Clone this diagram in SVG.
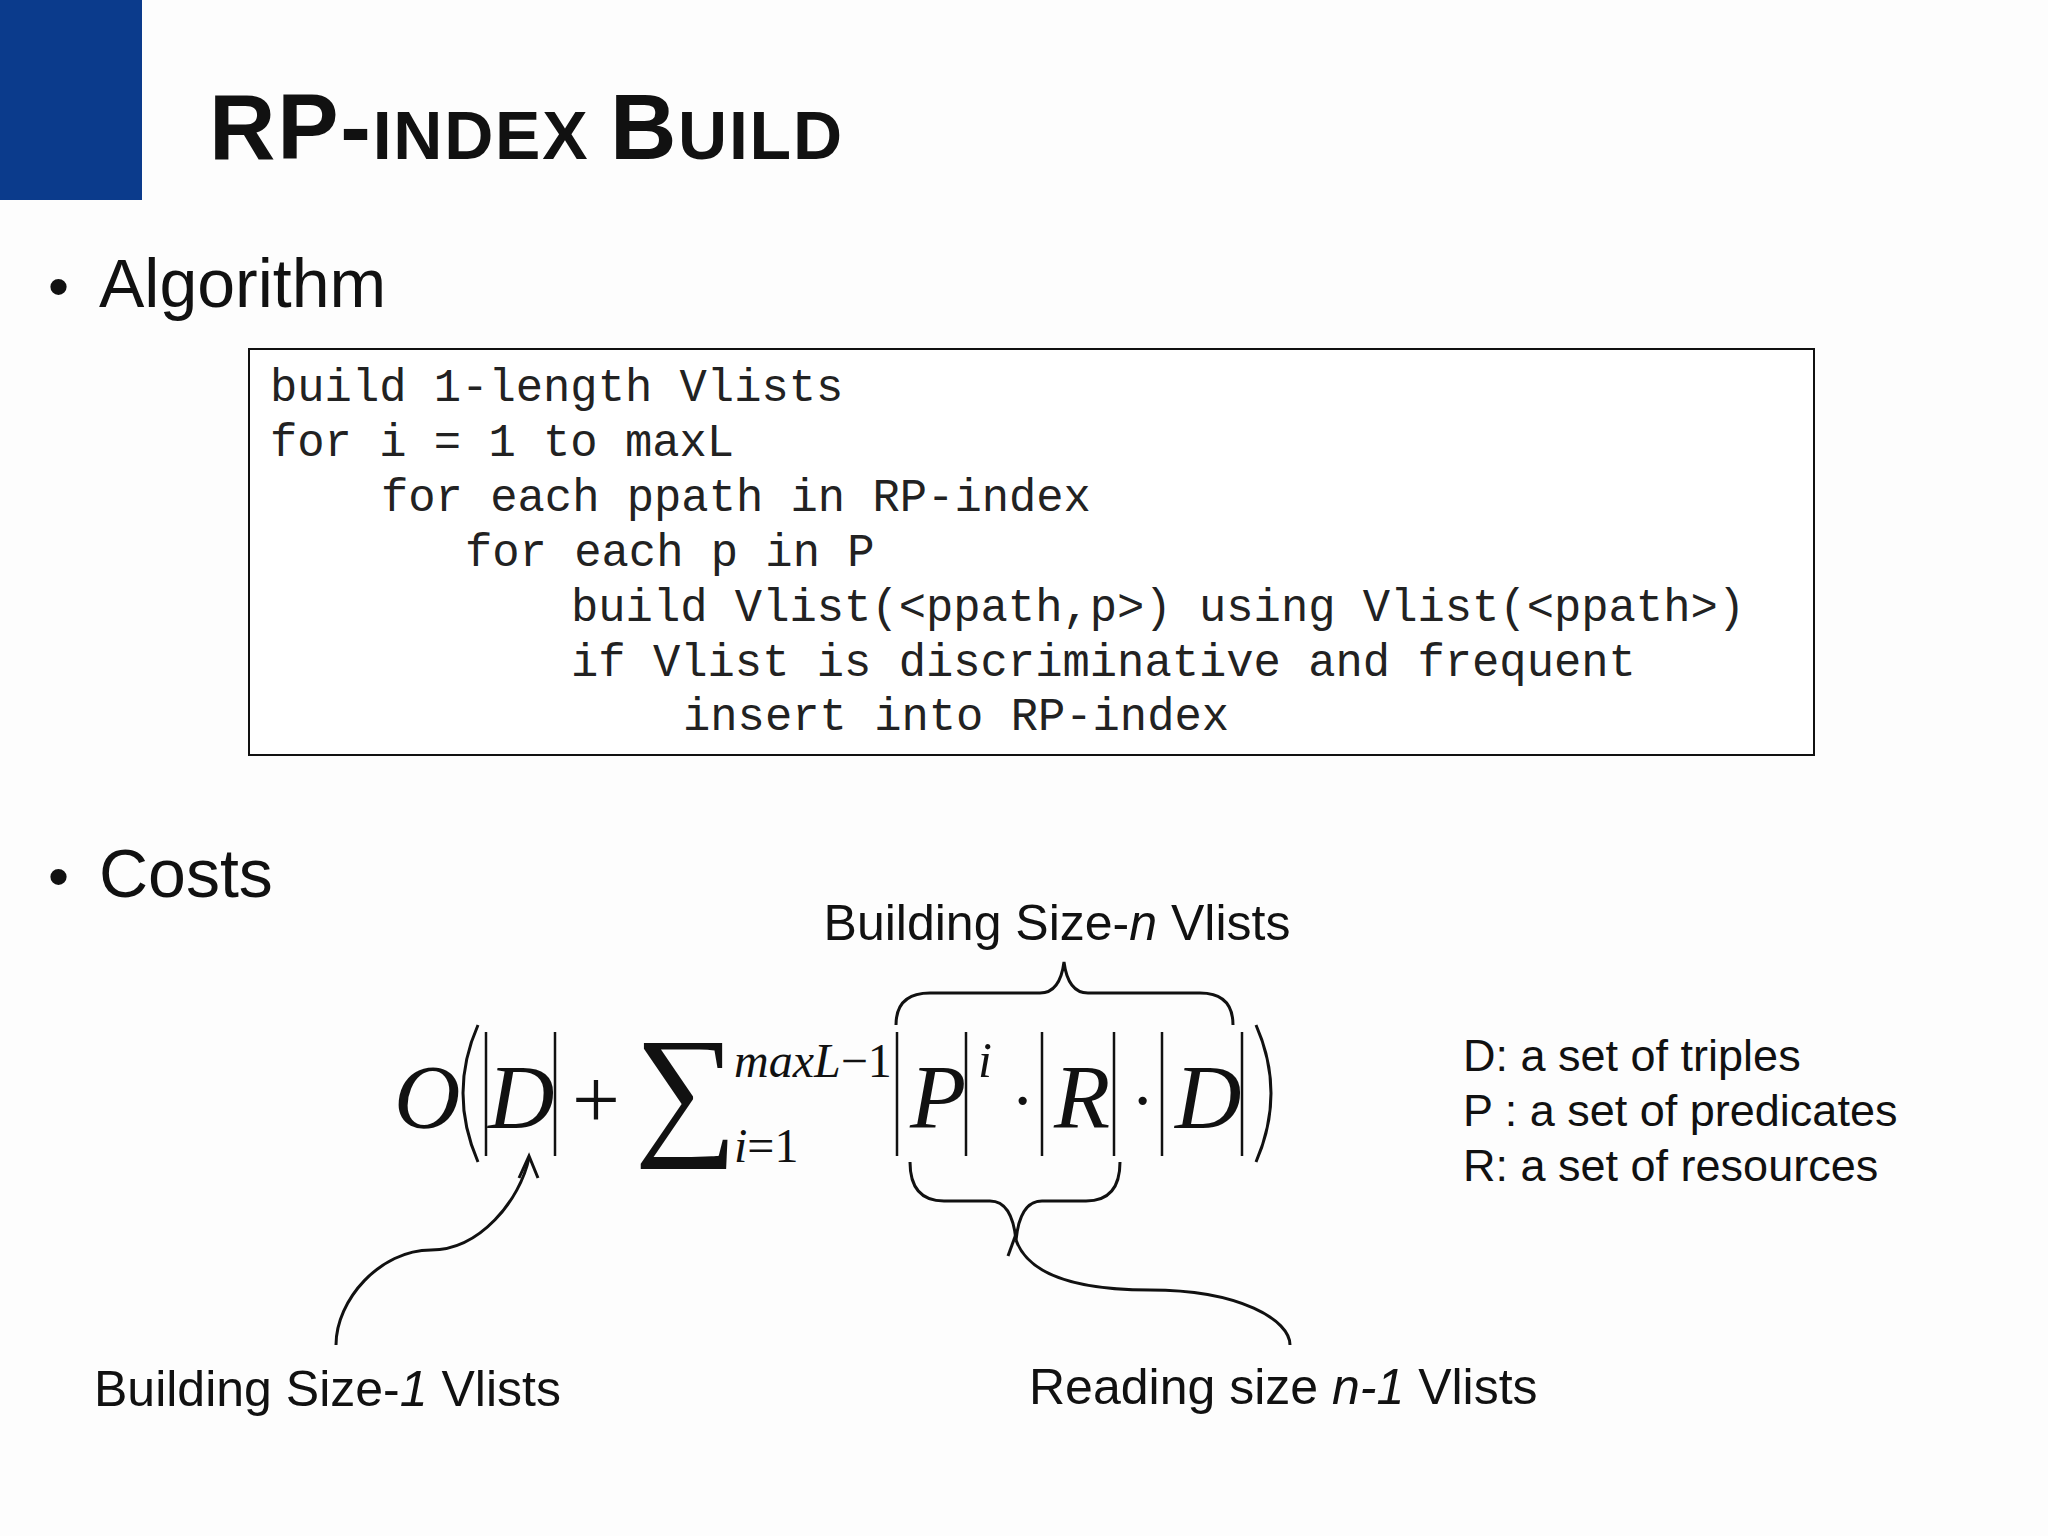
<svg xmlns="http://www.w3.org/2000/svg" width="2048" height="1536" viewBox="0 0 2048 1536">
<style>
.s{font-family:"Liberation Sans",Arial,sans-serif;fill:#111}
.c{font-family:"Liberation Mono","Courier New",monospace;font-size:45.5px;fill:#222}
.m{font-family:"Liberation Serif","Times New Roman",serif;font-style:italic;fill:#111}
.r{font-family:"Liberation Serif","Times New Roman",serif;fill:#111}
.ln{fill:none;stroke:#111;stroke-width:3}
.b{fill:none;stroke:#111;stroke-width:2.5}
</style>
<rect width="2048" height="1536" fill="#fdfdfd"/>
<rect x="0" y="0" width="142" height="200" fill="#0b3b8c"/>
<g id="title"><text class="s" x="209" y="159" font-weight="bold" textLength="633"><tspan font-size="92">RP-</tspan><tspan font-size="68">INDEX </tspan><tspan font-size="92">B</tspan><tspan font-size="68">UILD</tspan></text></g>
<g id="bullet-algorithm"><text class="s" x="48" y="307" font-size="60" fill="#0b3b8c">•</text><text class="s" x="99" y="307" font-size="68">Algorithm</text></g>
<g id="code">
<rect x="249" y="349" width="1565" height="406" fill="#fff" stroke="#111" stroke-width="2"/>
<text class="c" x="270" y="401">build 1-length Vlists</text>
<text class="c" x="270" y="456">for i = 1 to maxL</text>
<text class="c" x="381" y="511">for each ppath in RP-index</text>
<text class="c" x="465" y="566">for each p in P</text>
<text class="c" x="571" y="621">build Vlist(&lt;ppath,p&gt;) using Vlist(&lt;ppath&gt;)</text>
<text class="c" x="571" y="676">if Vlist is discriminative and frequent</text>
<text class="c" x="683" y="730">insert into RP-index</text>
</g>
<g id="bullet-costs"><text class="s" x="48" y="897" font-size="60" fill="#0b3b8c">•</text><text class="s" x="99" y="897" font-size="68">Costs</text></g>
<g id="formula">
<text class="m" x="394" y="1128" font-size="92">O</text>
<path class="ln" d="M478 1025 Q448 1093 478 1162"/>
<line class="b" x1="486" y1="1032" x2="486" y2="1156"/><line class="b" x1="555" y1="1032" x2="555" y2="1156"/>
<text class="m" x="488" y="1128" font-size="92">D</text>
<text class="r" x="572" y="1128" font-size="85">+</text>
<text class="r" x="634" y="1138" font-size="145">∑</text>
<text class="m" x="734" y="1077" font-size="48">maxL<tspan font-style="normal">−1</tspan></text>
<text class="m" x="734" y="1162" font-size="48">i<tspan font-style="normal">=1</tspan></text>
<line class="b" x1="897" y1="1032" x2="897" y2="1156"/><line class="b" x1="966" y1="1032" x2="966" y2="1156"/>
<text class="m" x="910" y="1128" font-size="92">P</text>
<text class="m" x="978" y="1077" font-size="50">i</text>
<text class="r" x="1011" y="1124" font-size="70">·</text>
<line class="b" x1="1042" y1="1032" x2="1042" y2="1156"/><line class="b" x1="1114" y1="1032" x2="1114" y2="1156"/>
<text class="m" x="1054" y="1128" font-size="92">R</text>
<text class="r" x="1131" y="1124" font-size="70">·</text>
<line class="b" x1="1162" y1="1032" x2="1162" y2="1156"/><line class="b" x1="1242" y1="1032" x2="1242" y2="1156"/>
<text class="m" x="1175" y="1128" font-size="92">D</text>
<path class="ln" d="M1256 1025 Q1286 1093 1256 1162"/>
</g>
<g id="label-top"><text class="s" x="1057" y="940" font-size="50" text-anchor="middle">Building Size-<tspan font-style="italic">n</tspan> Vlists</text></g>
<g id="label-left"><text class="s" x="94" y="1406" font-size="50">Building Size-<tspan font-style="italic">1</tspan> Vlists</text></g>
<g id="label-right"><text class="s" x="1029" y="1404" font-size="50">Reading size <tspan font-style="italic">n-1</tspan> Vlists</text></g>
<g id="legend" class="s" font-size="45">
<text x="1463" y="1071">D: a set of triples</text>
<text x="1463" y="1126">P : a set of predicates</text>
<text x="1463" y="1181">R: a set of resources</text>
</g>
<g id="connectors">
<path class="ln" d="M896 1025 Q896 993 930 993 L1040 993 Q1060 993 1064 962 Q1068 993 1088 993 L1200 993 Q1233 993 1233 1025"/>
<path class="ln" d="M910 1162 Q910 1201 944 1201 L990 1201 Q1012 1201 1016 1240 Q1020 1201 1042 1201 L1086 1201 Q1120 1201 1120 1162"/>
<path class="ln" d="M1016 1234 L1008 1256"/>
<path class="ln" d="M1016 1240 C1030 1280 1090 1290 1150 1290 C1240 1290 1290 1320 1290 1345"/>
<path class="ln" d="M336 1345 C336 1300 380 1250 431 1250 C480 1250 520 1200 529 1158"/>
<path class="ln" d="M519 1178 L529 1156 L538 1178"/>
</g>
</svg>
